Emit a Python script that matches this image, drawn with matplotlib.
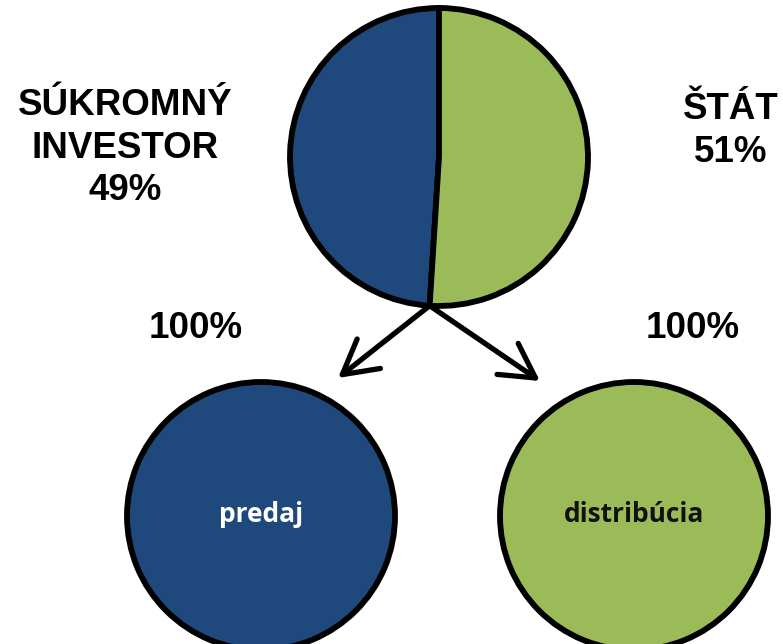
import numpy as np
import matplotlib
matplotlib.use("Agg")
import matplotlib.pyplot as plt

# ---- data ----
owners = ["SÚKROMNÝ\nINVESTOR", "ŠTÁT"]
shares = [49, 51]
owner_colors = ["#1F497C", "#9BBB59"]
children = ["predaj", "distribúcia"]
child_shares = [100, 100]
child_text_colors = ["white", "#111111"]

W, H = 783, 644
fig = plt.figure(figsize=(W / 100, H / 100), dpi=100)
ax = fig.add_axes([0, 0, 1, 1])

# layout (in pixel-like data units, y up)
top_c, top_r = (439, 487), 149
child_c = [(261, 128), (634, 128)]
child_r = 134
edge = dict(edgecolor="black", linewidth=4.2)

ax.pie(shares, colors=owner_colors, startangle=90, counterclock=True,
       center=top_c, radius=top_r, wedgeprops=edge)
for (cx, cy), val, col in zip(child_c, child_shares, owner_colors):
    ax.pie([val], colors=[col], startangle=90, center=(cx, cy),
           radius=child_r, wedgeprops=edge)

ax.set_xlim(0, W)
ax.set_ylim(0, H)
ax.set_aspect("equal")
ax.axis("off")

# arrows from the bottom of the split line
ang = np.deg2rad(90 + 360 * shares[0] / sum(shares))
sx = top_c[0] + top_r * np.cos(ang)
sy = top_c[1] + top_r * np.sin(ang)
tips = [(338, 266), (540, 263)]
for tx, ty in tips:
    ax.annotate("", xy=(tx, ty), xytext=(sx, sy),
                arrowprops=dict(arrowstyle="->,head_length=0.9,head_width=0.5",
                                lw=3.8, color="black", shrinkA=0, shrinkB=0,
                                mutation_scale=27, capstyle="round",
                                joinstyle="round"))

lab = dict(fontfamily="Liberation Sans", fontweight="bold", fontsize=26.5,
           ha="center", va="center", color="black", linespacing=1.27)
ax.text(125, 644 - 148, f"{owners[0]}\n{shares[0]}%", **lab)
ax.text(731, 644 - 131, f"{owners[1]}\n{shares[1]}%", **lab)
ax.text(196, 644 - 328, f"{child_shares[0]}%", **lab)
ax.text(693, 644 - 328, f"{child_shares[1]}%", **lab)

for (cx, cy), name, tc in zip(child_c, children, child_text_colors):
    ax.text(cx, cy + 2, name, fontfamily="Open Sans", fontweight="bold",
            fontsize=19, ha="center", va="center", color=tc)

fig.savefig("out.png", dpi=100)
